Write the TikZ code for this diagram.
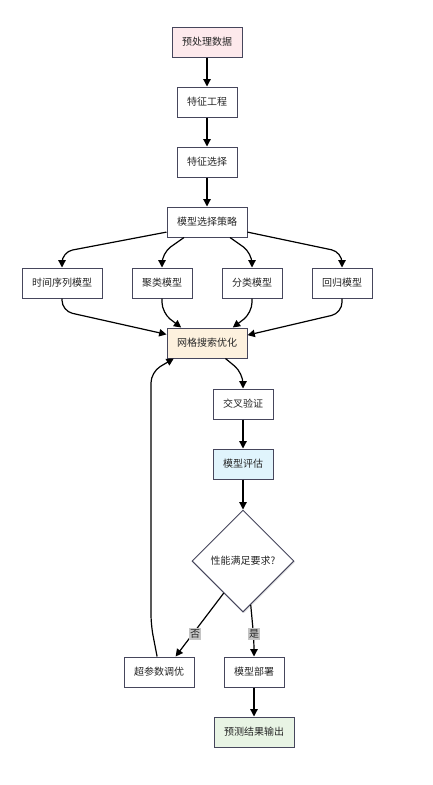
\documentclass[tikz,border=0pt]{standalone}
\usepackage{fontspec}
\setmainfont{Noto Sans CJK SC}
\usetikzlibrary{arrows.meta,shapes.geometric,shadows}

\definecolor{edgegray}{RGB}{70,70,92}
\definecolor{pinkfill}{RGB}{253,233,236}
\definecolor{orangefill}{RGB}{253,241,222}
\definecolor{bluefill}{RGB}{224,244,252}
\definecolor{greenfill}{RGB}{232,244,228}
\definecolor{labelgray}{RGB}{196,196,196}

\begin{document}
\begin{tikzpicture}[x=0.75pt,y=-0.75pt]
			\tikzstyle{box} = [
				rectangle, draw = edgegray, fill = white, line width = 0.75pt,
				inner xsep = 7.5pt, inner ysep = 0pt, minimum height = 22.5pt,
				font = \fontsize{7.5pt}{9pt}\selectfont, text = black!85,
				drop shadow = {shadow xshift = 1pt, shadow yshift = -1pt, opacity = 0.15}
			]
			\tikzstyle{decision} = [
				diamond, draw = edgegray, fill = white, line width = 0.75pt,
				inner sep = 0pt, minimum width = 76.5pt, minimum height = 76.5pt,
				font = \fontsize{7.5pt}{9pt}\selectfont, text = black!85,
				drop shadow = {shadow xshift = 1pt, shadow yshift = -1pt, opacity = 0.15}
			]
			\tikzstyle{link} = [->, draw = black, >={Triangle[length=5.5pt,width=5.5pt]}, line width = 0.9pt, rounded corners = 8pt]
			\tikzstyle{tag} = [rectangle, fill = labelgray, inner xsep = 1pt, inner ysep = 1.5pt, text = black!85, font = \fontsize{7.5pt}{9pt}\selectfont]
			\useasboundingbox (0,0) rectangle (432,785);
			\node[box, fill = pinkfill] (prep) at (207,42) {预处理数据};
			\node[box] (feat) at (207,102) {特征工程};
			\node[box] (sel) at (207,162) {特征选择};
			\node[box] (strategy) at (207,222) {模型选择策略};
			\node[box] (ts) at (62,283) {时间序列模型};
			\node[box] (clu) at (162,283) {聚类模型};
			\node[box] (cls) at (252,283) {分类模型};
			\node[box] (reg) at (342,283) {回归模型};
			\node[box, fill = orangefill] (grid) at (207,343) {网格搜索优化};
			\node[box] (cv) at (243,404) {交叉验证};
			\node[box, fill = bluefill] (eval) at (243,464) {模型评估};
			\node[decision] (ok) at (243,561) {性能满足要求?};
			\node[box] (hyper) at (159,672) {超参数调优};
			\node[box] (deploy) at (254,672) {模型部署};
			\node[box, fill = greenfill] (out) at (254,732) {预测结果输出};
			\draw[link] (prep) to (feat);
			\draw[link] (feat) to (sel);
			\draw[link] (sel) to (strategy);
			\draw[link] (strategy.194) -- (62,252) -- (ts.north);
			\draw[link] (strategy.214) -- (162,253) -- (clu.north);
			\draw[link] (strategy.326) -- (252,253) -- (cls.north);
			\draw[link] (strategy.346) -- (342,252) -- (reg.north);
			\draw[link] (ts.south) -- (62,311) -- (grid.168);
			\draw[link] (clu.south) -- (162,313) -- (grid.149);
			\draw[link] (cls.south) -- (252,313) -- (grid.31);
			\draw[link] (reg.south) -- (342,313) -- (grid.11);
			\draw[link] (grid.320) -- (243,373) -- (cv.north);
			\draw[link] (cv) to (eval);
			\draw[link] (eval) to (ok);
			\draw[link] (ok.239) -- (hyper.43);
			\draw[link] (ok.280) -- (254,640) -- (deploy.north);
			\node[tag] (no) at (195,634) {否};
			\node[tag] (yes) at (254,634) {是};
			\draw[link] (hyper.97) -- (151,625) -- (151,372) -- (grid.205);
			\draw[link] (deploy) to (out);
		\end{tikzpicture}
\end{document}
